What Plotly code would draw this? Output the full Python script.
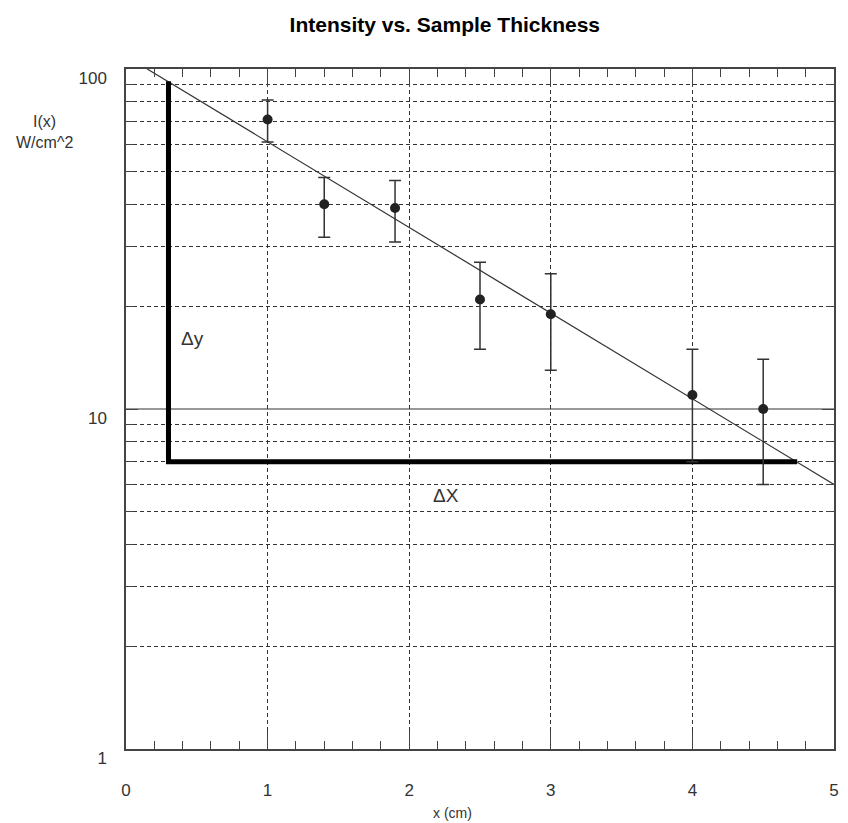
import math
import plotly.graph_objects as go

# Data
thickness_cm = [1.0, 1.4, 1.9, 2.5, 3.0, 4.0, 4.5]
intensity = [71, 40, 39, 21, 19, 11, 10]
intensity_err = [10, 8, 8, 6, 6, 4, 4]

fit_x = [0.15, 5.0]
fit_y = [100, 6.0]

slope_x = [0.3, 0.3, 4.74]
slope_y = [92, 7.0, 7.0]

y_tickvals = [1, 10, 100]
y_ticktext = ["1", "10", "100"]
y_minor = [2, 3, 4, 5, 6, 7, 8, 9, 20, 30, 40, 50, 60, 70, 80, 90]

label_dy = (0.47, 16.1)
label_dx = (2.26, 5.55)

FONT = "Liberation Sans, Arial, sans-serif"
INK = "#222"

fig = go.Figure()

fig.add_trace(go.Scatter(
    x=fit_x, y=fit_y, mode="lines",
    line=dict(color="#333", width=1.2), showlegend=False, hoverinfo="skip"))

fig.add_trace(go.Scatter(
    x=slope_x, y=slope_y, mode="lines",
    line=dict(color="black", width=5), showlegend=False, hoverinfo="skip"))

fig.add_trace(go.Scatter(
    x=thickness_cm, y=intensity, mode="markers",
    marker=dict(color=INK, size=10),
    error_y=dict(type="data", array=intensity_err, visible=True,
                 color="#333", thickness=1.5, width=6),
    showlegend=False))

# solid horizontal line at 10
fig.add_shape(type="line", xref="paper", x0=0, x1=1, yref="y",
              y0=y_tickvals[1], y1=y_tickvals[1],
              line=dict(color="#333", width=1.2), layer="below")

fig.update_layout(
    width=840, height=815,
    margin=dict(l=118, r=9, t=61, b=74),
    paper_bgcolor="white", plot_bgcolor="white",
    title=dict(text="<b>Intensity vs. Sample Thickness</b>",
               font=dict(family=FONT, size=21, color="black"),
               x=0.520, xanchor="center", y=0.979, yanchor="middle"),
    font=dict(family=FONT, color="#333"),
)

fig.update_xaxes(
    range=[0, 5], dtick=1, tick0=0,
    showline=True, linecolor="#444", linewidth=1.5, mirror="allticks",
    ticks="inside", ticklen=18, tickcolor="#444", tickwidth=1.2,
    showgrid=True, gridcolor="#333", gridwidth=1, griddash="4px,3px",
    zeroline=False,
    tickfont=dict(family=FONT, size=17, color="#333"),
    ticklabelstandoff=25,
    minor=dict(dtick=0.2, tick0=0, ticks="inside", ticklen=8,
               tickcolor="#444", tickwidth=1.2, showgrid=False),
)

fig.update_yaxes(
    type="log", range=[0, 2],
    tickmode="array", tickvals=y_tickvals, ticktext=y_ticktext,
    showline=True, linecolor="#444", linewidth=1.5, mirror="allticks",
    ticks="inside", ticklen=12, tickcolor="#444", tickwidth=1.2,
    showgrid=False, zeroline=False,
    tickfont=dict(family=FONT, size=17, color="#333"),
    ticklabelstandoff=14, ticklabelshift=9,
    minor=dict(tickmode="array", tickvals=y_minor, ticks="inside", ticklen=8,
               tickcolor="#444", tickwidth=1.2,
               showgrid=True, gridcolor="#333", gridwidth=1, griddash="4px,3px"),
)

fig.add_annotation(text="I(x)<br>W/cm^2", xref="paper", yref="paper",
                   x=-0.115, y=0.9074, xanchor="center", yanchor="middle",
                   showarrow=False, align="center",
                   font=dict(family=FONT, size=16, color="#333"))
fig.add_annotation(text="x (cm)", xref="paper", yref="paper",
                   x=0.461, y=-0.094, xanchor="center", yanchor="middle",
                   showarrow=False,
                   font=dict(family=FONT, size=14, color="#333"))
fig.add_annotation(text="Δy", x=label_dy[0], y=math.log10(label_dy[1]), showarrow=False,
                   font=dict(family=FONT, size=19, color="#333"))
fig.add_annotation(text="ΔX", x=label_dx[0], y=math.log10(label_dx[1]), showarrow=False,
                   font=dict(family=FONT, size=19, color="#333"))

fig.write_html("out.html")
